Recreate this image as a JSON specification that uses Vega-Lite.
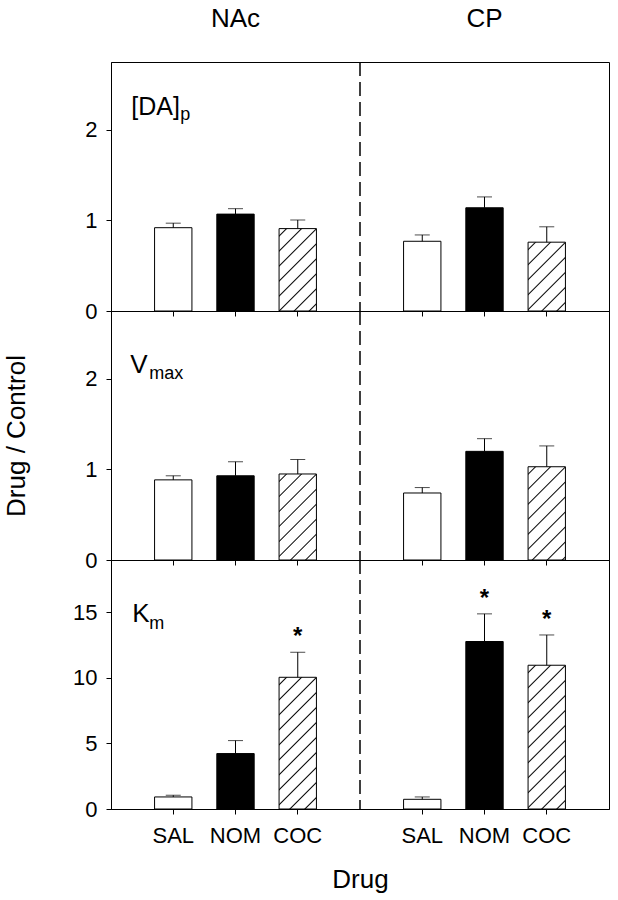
{
"$schema": "https://vega.github.io/schema/vega-lite/v6.json",
"padding": {"top": 5, "left": 3, "right": 5, "bottom": 5},
"background": "white",
"config": {"font": "Liberation Sans", "view": {"stroke": "black", "strokeWidth": 1},
  "axis": {"domainColor": "black", "tickColor": "black", "labelColor": "black", "titleColor": "black", "tickSize": 5, "grid": false, "labelFontSize": 22, "titleFontSize": 26, "titleFontWeight": "normal", "labelFont": "Liberation Sans", "titleFont": "Liberation Sans"}},
"datasets": {"bars": [
 {"param": "DA", "group": "NAc SAL", "value": 0.92, "upper": 0.97, "star": ""},
 {"param": "DA", "group": "NAc NOM", "value": 1.07, "upper": 1.13, "star": ""},
 {"param": "DA", "group": "NAc COC", "value": 0.91, "upper": 1.005, "star": ""},
 {"param": "DA", "group": "CP SAL", "value": 0.77, "upper": 0.84, "star": ""},
 {"param": "DA", "group": "CP NOM", "value": 1.14, "upper": 1.26, "star": ""},
 {"param": "DA", "group": "CP COC", "value": 0.76, "upper": 0.93, "star": ""},
 {"param": "Vmax", "group": "NAc SAL", "value": 0.885, "upper": 0.93, "star": ""},
 {"param": "Vmax", "group": "NAc NOM", "value": 0.93, "upper": 1.085, "star": ""},
 {"param": "Vmax", "group": "NAc COC", "value": 0.95, "upper": 1.11, "star": ""},
 {"param": "Vmax", "group": "CP SAL", "value": 0.74, "upper": 0.80, "star": ""},
 {"param": "Vmax", "group": "CP NOM", "value": 1.20, "upper": 1.34, "star": ""},
 {"param": "Vmax", "group": "CP COC", "value": 1.03, "upper": 1.26, "star": ""},
 {"param": "Km", "group": "NAc SAL", "value": 0.92, "upper": 1.05, "star": ""},
 {"param": "Km", "group": "NAc NOM", "value": 4.23, "upper": 5.22, "star": ""},
 {"param": "Km", "group": "NAc COC", "value": 10.05, "upper": 11.96, "star": "*"},
 {"param": "Km", "group": "CP SAL", "value": 0.74, "upper": 0.92, "star": ""},
 {"param": "Km", "group": "CP NOM", "value": 12.78, "upper": 14.89, "star": "*"},
 {"param": "Km", "group": "CP COC", "value": 10.97, "upper": 13.28, "star": "*"}
]},
"vconcat": [
 {
  "width": 498, "height": 249,
  "layer": [
   {"data": {"name": "bars"}, "transform": [{"filter": "datum.param == 'DA'"}],
    "layer": [
     {"mark": {"type": "bar", "stroke": "black", "strokeWidth": 1},
      "encoding": {
       "x": {"field": "group", "type": "nominal", "scale": {"type": "band", "domain": ["NAc SAL","NAc NOM","NAc COC","mid","CP SAL","CP NOM","CP COC"], "paddingInner": 0.4, "paddingOuter": 0.7}, "axis": {"values": ["NAc SAL","NAc NOM","NAc COC","CP SAL","CP NOM","CP COC"], "labels": false, "title": null}},
       "y": {"field": "value", "type": "quantitative", "scale": {"domain": [0, 2.75], "nice": false}, "axis": {"values": [0,1,2], "title": null, "labelPadding": 9}},
       "fill": {"condition": [
         {"test": "datum.group == 'NAc NOM' || datum.group == 'CP NOM'", "value": "black"},
         {"test": "datum.group == 'NAc COC'", "value": {"gradient": "linear", "x1": 0, "y1": 0, "x2": 0.5465, "y2": 1.2056, "stops": [
           {"offset": 0.0509, "color": "#fff"}, {"offset": 0.0626, "color": "#000"}, {"offset": 0.0743, "color": "#fff"},
           {"offset": 0.1762, "color": "#fff"}, {"offset": 0.1879, "color": "#000"}, {"offset": 0.1996, "color": "#fff"},
           {"offset": 0.3015, "color": "#fff"}, {"offset": 0.3132, "color": "#000"}, {"offset": 0.3248, "color": "#fff"},
           {"offset": 0.4267, "color": "#fff"}, {"offset": 0.4384, "color": "#000"}, {"offset": 0.4501, "color": "#fff"},
           {"offset": 0.5520, "color": "#fff"}, {"offset": 0.5637, "color": "#000"}, {"offset": 0.5754, "color": "#fff"},
           {"offset": 0.6772, "color": "#fff"}, {"offset": 0.6889, "color": "#000"}, {"offset": 0.7006, "color": "#fff"},
           {"offset": 0.8025, "color": "#fff"}, {"offset": 0.8142, "color": "#000"}, {"offset": 0.8259, "color": "#fff"},
           {"offset": 0.9278, "color": "#fff"}, {"offset": 0.9395, "color": "#000"}, {"offset": 0.9512, "color": "#fff"}]}},
         {"test": "datum.group == 'CP COC'", "value": {"gradient": "linear", "x1": 0, "y1": 0, "x2": 0.6469, "y2": 1.1917, "stops": [
           {"offset": 0.0575, "color": "#fff"}, {"offset": 0.0707, "color": "#000"}, {"offset": 0.0838, "color": "#fff"},
           {"offset": 0.1988, "color": "#fff"}, {"offset": 0.2120, "color": "#000"}, {"offset": 0.2252, "color": "#fff"},
           {"offset": 0.3401, "color": "#fff"}, {"offset": 0.3533, "color": "#000"}, {"offset": 0.3665, "color": "#fff"},
           {"offset": 0.4814, "color": "#fff"}, {"offset": 0.4946, "color": "#000"}, {"offset": 0.5078, "color": "#fff"},
           {"offset": 0.6227, "color": "#fff"}, {"offset": 0.6359, "color": "#000"}, {"offset": 0.6491, "color": "#fff"},
           {"offset": 0.7640, "color": "#fff"}, {"offset": 0.7772, "color": "#000"}, {"offset": 0.7904, "color": "#fff"},
           {"offset": 0.9053, "color": "#fff"}, {"offset": 0.9185, "color": "#000"}, {"offset": 0.9317, "color": "#fff"}]}}
        ], "value": "white"}
      }},
     {"mark": {"type": "rule", "color": "black", "strokeWidth": 1},
      "encoding": {
       "x": {"field": "group", "type": "nominal", "scale": {"type": "band", "domain": ["NAc SAL","NAc NOM","NAc COC","mid","CP SAL","CP NOM","CP COC"], "paddingInner": 0.4, "paddingOuter": 0.7}, "axis": {"values": ["NAc SAL","NAc NOM","NAc COC","CP SAL","CP NOM","CP COC"], "labels": false, "title": null}},
       "y": {"field": "value", "type": "quantitative", "scale": {"domain": [0, 2.75], "nice": false}, "axis": {"values": [0,1,2], "title": null, "labelPadding": 9}},
       "y2": {"field": "upper"}}},
     {"mark": {"type": "tick", "color": "black", "size": 15, "thickness": 1},
      "encoding": {
       "x": {"field": "group", "type": "nominal", "scale": {"type": "band", "domain": ["NAc SAL","NAc NOM","NAc COC","mid","CP SAL","CP NOM","CP COC"], "paddingInner": 0.4, "paddingOuter": 0.7}, "axis": {"values": ["NAc SAL","NAc NOM","NAc COC","CP SAL","CP NOM","CP COC"], "labels": false, "title": null}},
       "y": {"field": "upper", "type": "quantitative", "scale": {"domain": [0, 2.75], "nice": false}, "axis": {"values": [0,1,2], "title": null, "labelPadding": 9}}}}
    ]},
   {"data": {"values": [{}]}, "mark": {"type": "text", "text": "[DA]", "align": "left", "baseline": "alphabetic", "dx": -42, "fontSize": 25, "color": "black"},
    "encoding": {
     "x": {"datum": "NAc SAL", "type": "nominal", "scale": {"type": "band", "domain": ["NAc SAL","NAc NOM","NAc COC","mid","CP SAL","CP NOM","CP COC"], "paddingInner": 0.4, "paddingOuter": 0.7}, "axis": {"values": ["NAc SAL","NAc NOM","NAc COC","CP SAL","CP NOM","CP COC"], "labels": false, "title": null}},
     "y": {"datum": 2.165, "type": "quantitative", "scale": {"domain": [0, 2.75], "nice": false}, "axis": {"values": [0,1,2], "title": null, "labelPadding": 9}}}},
   {"data": {"values": [{}]}, "mark": {"type": "text", "text": "p", "align": "left", "baseline": "alphabetic", "dx": 7, "dy": 5, "fontSize": 18, "color": "black"},
    "encoding": {
     "x": {"datum": "NAc SAL", "type": "nominal", "scale": {"type": "band", "domain": ["NAc SAL","NAc NOM","NAc COC","mid","CP SAL","CP NOM","CP COC"], "paddingInner": 0.4, "paddingOuter": 0.7}, "axis": {"values": ["NAc SAL","NAc NOM","NAc COC","CP SAL","CP NOM","CP COC"], "labels": false, "title": null}},
     "y": {"datum": 2.165, "type": "quantitative", "scale": {"domain": [0, 2.75], "nice": false}, "axis": {"values": [0,1,2], "title": null, "labelPadding": 9}}}},
   {"data": {"values": [{"group": "NAc NOM", "label": "NAc"}, {"group": "CP NOM", "label": "CP"}]}, "mark": {"type": "text", "baseline": "alphabetic", "fontSize": 26, "color": "black"},
    "encoding": {
     "x": {"field": "group", "type": "nominal", "scale": {"type": "band", "domain": ["NAc SAL","NAc NOM","NAc COC","mid","CP SAL","CP NOM","CP COC"], "paddingInner": 0.4, "paddingOuter": 0.7}, "axis": {"values": ["NAc SAL","NAc NOM","NAc COC","CP SAL","CP NOM","CP COC"], "labels": false, "title": null}},
     "y": {"datum": 3.137, "type": "quantitative", "scale": {"domain": [0, 2.75], "nice": false}, "axis": {"values": [0,1,2], "title": null, "labelPadding": 9}},
     "text": {"field": "label"}}},
   {"data": {"values": [{}]}, "mark": {"type": "rule", "strokeDash": [14, 6], "strokeWidth": 1.5, "color": "black"},
    "encoding": {
     "x": {"datum": "mid", "type": "nominal", "scale": {"type": "band", "domain": ["NAc SAL","NAc NOM","NAc COC","mid","CP SAL","CP NOM","CP COC"], "paddingInner": 0.4, "paddingOuter": 0.7}, "axis": {"values": ["NAc SAL","NAc NOM","NAc COC","CP SAL","CP NOM","CP COC"], "labels": false, "title": null}}}}
  ]
 },
 {
  "width": 498, "height": 249,
  "layer": [
   {"data": {"name": "bars"}, "transform": [{"filter": "datum.param == 'Vmax'"}],
    "layer": [
     {"mark": {"type": "bar", "stroke": "black", "strokeWidth": 1},
      "encoding": {
       "x": {"field": "group", "type": "nominal", "scale": {"type": "band", "domain": ["NAc SAL","NAc NOM","NAc COC","mid","CP SAL","CP NOM","CP COC"], "paddingInner": 0.4, "paddingOuter": 0.7}, "axis": {"values": ["NAc SAL","NAc NOM","NAc COC","CP SAL","CP NOM","CP COC"], "labels": false, "title": null}},
       "y": {"field": "value", "type": "quantitative", "scale": {"domain": [0, 2.75], "nice": false}, "axis": {"values": [0,1,2], "title": "Drug / Control", "titlePadding": 55, "labelPadding": 9}},
       "fill": {"condition": [
         {"test": "datum.group == 'NAc NOM' || datum.group == 'CP NOM'", "value": "black"},
         {"test": "datum.group == 'NAc COC'", "value": {"gradient": "linear", "x1": 0, "y1": 0, "x2": 0.5241, "y2": 1.2067, "stops": [
           {"offset": 0.0495, "color": "#fff"}, {"offset": 0.0608, "color": "#000"}, {"offset": 0.0722, "color": "#fff"},
           {"offset": 0.1711, "color": "#fff"}, {"offset": 0.1824, "color": "#000"}, {"offset": 0.1938, "color": "#fff"},
           {"offset": 0.2927, "color": "#fff"}, {"offset": 0.3040, "color": "#000"}, {"offset": 0.3154, "color": "#fff"},
           {"offset": 0.4143, "color": "#fff"}, {"offset": 0.4256, "color": "#000"}, {"offset": 0.4370, "color": "#fff"},
           {"offset": 0.5359, "color": "#fff"}, {"offset": 0.5472, "color": "#000"}, {"offset": 0.5586, "color": "#fff"},
           {"offset": 0.6575, "color": "#fff"}, {"offset": 0.6688, "color": "#000"}, {"offset": 0.6802, "color": "#fff"},
           {"offset": 0.7791, "color": "#fff"}, {"offset": 0.7904, "color": "#000"}, {"offset": 0.8018, "color": "#fff"},
           {"offset": 0.9007, "color": "#fff"}, {"offset": 0.9120, "color": "#000"}, {"offset": 0.9234, "color": "#fff"}]}},
         {"test": "datum.group == 'CP COC'", "value": {"gradient": "linear", "x1": 0, "y1": 0, "x2": 0.4832, "y2": 1.2069, "stops": [
           {"offset": 0.0467, "color": "#fff"}, {"offset": 0.0574, "color": "#000"}, {"offset": 0.0681, "color": "#fff"},
           {"offset": 0.1615, "color": "#fff"}, {"offset": 0.1722, "color": "#000"}, {"offset": 0.1829, "color": "#fff"},
           {"offset": 0.2763, "color": "#fff"}, {"offset": 0.2870, "color": "#000"}, {"offset": 0.2977, "color": "#fff"},
           {"offset": 0.3911, "color": "#fff"}, {"offset": 0.4018, "color": "#000"}, {"offset": 0.4126, "color": "#fff"},
           {"offset": 0.5059, "color": "#fff"}, {"offset": 0.5167, "color": "#000"}, {"offset": 0.5274, "color": "#fff"},
           {"offset": 0.6207, "color": "#fff"}, {"offset": 0.6315, "color": "#000"}, {"offset": 0.6422, "color": "#fff"},
           {"offset": 0.7355, "color": "#fff"}, {"offset": 0.7463, "color": "#000"}, {"offset": 0.7570, "color": "#fff"},
           {"offset": 0.8504, "color": "#fff"}, {"offset": 0.8611, "color": "#000"}, {"offset": 0.8718, "color": "#fff"},
           {"offset": 0.9652, "color": "#fff"}, {"offset": 0.9759, "color": "#000"}, {"offset": 0.9866, "color": "#fff"}]}}
        ], "value": "white"}
      }},
     {"mark": {"type": "rule", "color": "black", "strokeWidth": 1},
      "encoding": {
       "x": {"field": "group", "type": "nominal", "scale": {"type": "band", "domain": ["NAc SAL","NAc NOM","NAc COC","mid","CP SAL","CP NOM","CP COC"], "paddingInner": 0.4, "paddingOuter": 0.7}, "axis": {"values": ["NAc SAL","NAc NOM","NAc COC","CP SAL","CP NOM","CP COC"], "labels": false, "title": null}},
       "y": {"field": "value", "type": "quantitative", "scale": {"domain": [0, 2.75], "nice": false}, "axis": {"values": [0,1,2], "title": "Drug / Control", "titlePadding": 55, "labelPadding": 9}},
       "y2": {"field": "upper"}}},
     {"mark": {"type": "tick", "color": "black", "size": 15, "thickness": 1},
      "encoding": {
       "x": {"field": "group", "type": "nominal", "scale": {"type": "band", "domain": ["NAc SAL","NAc NOM","NAc COC","mid","CP SAL","CP NOM","CP COC"], "paddingInner": 0.4, "paddingOuter": 0.7}, "axis": {"values": ["NAc SAL","NAc NOM","NAc COC","CP SAL","CP NOM","CP COC"], "labels": false, "title": null}},
       "y": {"field": "upper", "type": "quantitative", "scale": {"domain": [0, 2.75], "nice": false}, "axis": {"values": [0,1,2], "title": "Drug / Control", "titlePadding": 55, "labelPadding": 9}}}}
    ]},
   {"data": {"values": [{}]}, "mark": {"type": "text", "text": "V", "align": "left", "baseline": "alphabetic", "dx": -43, "fontSize": 26, "color": "black"},
    "encoding": {
     "x": {"datum": "NAc SAL", "type": "nominal", "scale": {"type": "band", "domain": ["NAc SAL","NAc NOM","NAc COC","mid","CP SAL","CP NOM","CP COC"], "paddingInner": 0.4, "paddingOuter": 0.7}, "axis": {"values": ["NAc SAL","NAc NOM","NAc COC","CP SAL","CP NOM","CP COC"], "labels": false, "title": null}},
     "y": {"datum": 2.065, "type": "quantitative", "scale": {"domain": [0, 2.75], "nice": false}, "axis": {"values": [0,1,2], "title": "Drug / Control", "titlePadding": 55, "labelPadding": 9}}}},
   {"data": {"values": [{}]}, "mark": {"type": "text", "text": "max", "align": "left", "baseline": "alphabetic", "dx": -24, "dy": 6, "fontSize": 18, "color": "black"},
    "encoding": {
     "x": {"datum": "NAc SAL", "type": "nominal", "scale": {"type": "band", "domain": ["NAc SAL","NAc NOM","NAc COC","mid","CP SAL","CP NOM","CP COC"], "paddingInner": 0.4, "paddingOuter": 0.7}, "axis": {"values": ["NAc SAL","NAc NOM","NAc COC","CP SAL","CP NOM","CP COC"], "labels": false, "title": null}},
     "y": {"datum": 2.065, "type": "quantitative", "scale": {"domain": [0, 2.75], "nice": false}, "axis": {"values": [0,1,2], "title": "Drug / Control", "titlePadding": 55, "labelPadding": 9}}}},
   {"data": {"values": [{}]}, "mark": {"type": "rule", "strokeDash": [14, 6], "strokeWidth": 1.5, "color": "black"},
    "encoding": {
     "x": {"datum": "mid", "type": "nominal", "scale": {"type": "band", "domain": ["NAc SAL","NAc NOM","NAc COC","mid","CP SAL","CP NOM","CP COC"], "paddingInner": 0.4, "paddingOuter": 0.7}, "axis": {"values": ["NAc SAL","NAc NOM","NAc COC","CP SAL","CP NOM","CP COC"], "labels": false, "title": null}}}}
  ]
 },
 {
  "width": 498, "height": 249,
  "layer": [
   {"data": {"name": "bars"}, "transform": [{"filter": "datum.param == 'Km'"}],
    "layer": [
     {"mark": {"type": "bar", "stroke": "black", "strokeWidth": 1},
      "encoding": {
       "x": {"field": "group", "type": "nominal", "scale": {"type": "band", "domain": ["NAc SAL","NAc NOM","NAc COC","mid","CP SAL","CP NOM","CP COC"], "paddingInner": 0.4, "paddingOuter": 0.7}, "axis": {"values": ["NAc SAL","NAc NOM","NAc COC","CP SAL","CP NOM","CP COC"], "labelExpr": "split(datum.label, ' ')[1]", "labelAngle": 0, "labelPadding": 11, "title": "Drug", "titlePadding": 20}},
       "y": {"field": "value", "type": "quantitative", "scale": {"domain": [0, 19], "nice": false}, "axis": {"values": [0,5,10,15], "title": null, "labelPadding": 9}},
       "fill": {"condition": [
         {"test": "datum.group == 'NAc NOM' || datum.group == 'CP NOM'", "value": "black"},
         {"test": "datum.group == 'NAc COC'", "value": {"gradient": "linear", "x1": 0, "y1": 0, "x2": 0.3369, "y2": 1.1881, "stops": [
           {"offset": 0.0361, "color": "#fff"}, {"offset": 0.0444, "color": "#000"}, {"offset": 0.0527, "color": "#fff"},
           {"offset": 0.1248, "color": "#fff"}, {"offset": 0.1331, "color": "#000"}, {"offset": 0.1414, "color": "#fff"},
           {"offset": 0.2135, "color": "#fff"}, {"offset": 0.2218, "color": "#000"}, {"offset": 0.2301, "color": "#fff"},
           {"offset": 0.3023, "color": "#fff"}, {"offset": 0.3106, "color": "#000"}, {"offset": 0.3188, "color": "#fff"},
           {"offset": 0.3910, "color": "#fff"}, {"offset": 0.3993, "color": "#000"}, {"offset": 0.4076, "color": "#fff"},
           {"offset": 0.4797, "color": "#fff"}, {"offset": 0.4880, "color": "#000"}, {"offset": 0.4963, "color": "#fff"},
           {"offset": 0.5685, "color": "#fff"}, {"offset": 0.5768, "color": "#000"}, {"offset": 0.5850, "color": "#fff"},
           {"offset": 0.6572, "color": "#fff"}, {"offset": 0.6655, "color": "#000"}, {"offset": 0.6738, "color": "#fff"},
           {"offset": 0.7459, "color": "#fff"}, {"offset": 0.7542, "color": "#000"}, {"offset": 0.7625, "color": "#fff"},
           {"offset": 0.8347, "color": "#fff"}, {"offset": 0.8429, "color": "#000"}, {"offset": 0.8512, "color": "#fff"},
           {"offset": 0.9234, "color": "#fff"}, {"offset": 0.9317, "color": "#000"}, {"offset": 0.9400, "color": "#fff"}]}},
         {"test": "datum.group == 'CP COC'", "value": {"gradient": "linear", "x1": 0, "y1": 0, "x2": 0.3065, "y2": 1.1801, "stops": [
           {"offset": 0.0337, "color": "#fff"}, {"offset": 0.0414, "color": "#000"}, {"offset": 0.0491, "color": "#fff"},
           {"offset": 0.1165, "color": "#fff"}, {"offset": 0.1242, "color": "#000"}, {"offset": 0.1320, "color": "#fff"},
           {"offset": 0.1993, "color": "#fff"}, {"offset": 0.2070, "color": "#000"}, {"offset": 0.2147, "color": "#fff"},
           {"offset": 0.2821, "color": "#fff"}, {"offset": 0.2898, "color": "#000"}, {"offset": 0.2975, "color": "#fff"},
           {"offset": 0.3649, "color": "#fff"}, {"offset": 0.3726, "color": "#000"}, {"offset": 0.3804, "color": "#fff"},
           {"offset": 0.4477, "color": "#fff"}, {"offset": 0.4554, "color": "#000"}, {"offset": 0.4632, "color": "#fff"},
           {"offset": 0.5305, "color": "#fff"}, {"offset": 0.5382, "color": "#000"}, {"offset": 0.5460, "color": "#fff"},
           {"offset": 0.6133, "color": "#fff"}, {"offset": 0.6210, "color": "#000"}, {"offset": 0.6288, "color": "#fff"},
           {"offset": 0.6961, "color": "#fff"}, {"offset": 0.7038, "color": "#000"}, {"offset": 0.7116, "color": "#fff"},
           {"offset": 0.7789, "color": "#fff"}, {"offset": 0.7866, "color": "#000"}, {"offset": 0.7944, "color": "#fff"},
           {"offset": 0.8617, "color": "#fff"}, {"offset": 0.8695, "color": "#000"}, {"offset": 0.8772, "color": "#fff"},
           {"offset": 0.9445, "color": "#fff"}, {"offset": 0.9523, "color": "#000"}, {"offset": 0.9600, "color": "#fff"}]}}
        ], "value": "white"}
      }},
     {"mark": {"type": "rule", "color": "black", "strokeWidth": 1},
      "encoding": {
       "x": {"field": "group", "type": "nominal", "scale": {"type": "band", "domain": ["NAc SAL","NAc NOM","NAc COC","mid","CP SAL","CP NOM","CP COC"], "paddingInner": 0.4, "paddingOuter": 0.7}, "axis": {"values": ["NAc SAL","NAc NOM","NAc COC","CP SAL","CP NOM","CP COC"], "labelExpr": "split(datum.label, ' ')[1]", "labelAngle": 0, "labelPadding": 11, "title": "Drug", "titlePadding": 20}},
       "y": {"field": "value", "type": "quantitative", "scale": {"domain": [0, 19], "nice": false}, "axis": {"values": [0,5,10,15], "title": null, "labelPadding": 9}},
       "y2": {"field": "upper"}}},
     {"mark": {"type": "tick", "color": "black", "size": 15, "thickness": 1},
      "encoding": {
       "x": {"field": "group", "type": "nominal", "scale": {"type": "band", "domain": ["NAc SAL","NAc NOM","NAc COC","mid","CP SAL","CP NOM","CP COC"], "paddingInner": 0.4, "paddingOuter": 0.7}, "axis": {"values": ["NAc SAL","NAc NOM","NAc COC","CP SAL","CP NOM","CP COC"], "labelExpr": "split(datum.label, ' ')[1]", "labelAngle": 0, "labelPadding": 11, "title": "Drug", "titlePadding": 20}},
       "y": {"field": "upper", "type": "quantitative", "scale": {"domain": [0, 19], "nice": false}, "axis": {"values": [0,5,10,15], "title": null, "labelPadding": 9}}}},
     {"transform": [{"filter": "datum.star == '*'"}],
      "mark": {"type": "text", "fontSize": 24, "fontWeight": "bold", "baseline": "alphabetic", "dy": -8, "color": "black"},
      "encoding": {
       "x": {"field": "group", "type": "nominal", "scale": {"type": "band", "domain": ["NAc SAL","NAc NOM","NAc COC","mid","CP SAL","CP NOM","CP COC"], "paddingInner": 0.4, "paddingOuter": 0.7}, "axis": {"values": ["NAc SAL","NAc NOM","NAc COC","CP SAL","CP NOM","CP COC"], "labelExpr": "split(datum.label, ' ')[1]", "labelAngle": 0, "labelPadding": 11, "title": "Drug", "titlePadding": 20}},
       "y": {"field": "upper", "type": "quantitative", "scale": {"domain": [0, 19], "nice": false}, "axis": {"values": [0,5,10,15], "title": null, "labelPadding": 9}},
       "text": {"field": "star"}}}
    ]},
   {"data": {"values": [{}]}, "mark": {"type": "text", "text": "K", "align": "left", "baseline": "alphabetic", "dx": -41, "fontSize": 26, "color": "black"},
    "encoding": {
     "x": {"datum": "NAc SAL", "type": "nominal", "scale": {"type": "band", "domain": ["NAc SAL","NAc NOM","NAc COC","mid","CP SAL","CP NOM","CP COC"], "paddingInner": 0.4, "paddingOuter": 0.7}, "axis": {"values": ["NAc SAL","NAc NOM","NAc COC","CP SAL","CP NOM","CP COC"], "labelExpr": "split(datum.label, ' ')[1]", "labelAngle": 0, "labelPadding": 11, "title": "Drug", "titlePadding": 20}},
     "y": {"datum": 14.27, "type": "quantitative", "scale": {"domain": [0, 19], "nice": false}, "axis": {"values": [0,5,10,15], "title": null, "labelPadding": 9}}}},
   {"data": {"values": [{}]}, "mark": {"type": "text", "text": "m", "align": "left", "baseline": "alphabetic", "dx": -24, "dy": 7, "fontSize": 18, "color": "black"},
    "encoding": {
     "x": {"datum": "NAc SAL", "type": "nominal", "scale": {"type": "band", "domain": ["NAc SAL","NAc NOM","NAc COC","mid","CP SAL","CP NOM","CP COC"], "paddingInner": 0.4, "paddingOuter": 0.7}, "axis": {"values": ["NAc SAL","NAc NOM","NAc COC","CP SAL","CP NOM","CP COC"], "labelExpr": "split(datum.label, ' ')[1]", "labelAngle": 0, "labelPadding": 11, "title": "Drug", "titlePadding": 20}},
     "y": {"datum": 14.27, "type": "quantitative", "scale": {"domain": [0, 19], "nice": false}, "axis": {"values": [0,5,10,15], "title": null, "labelPadding": 9}}}},
   {"data": {"values": [{}]}, "mark": {"type": "rule", "strokeDash": [14, 6], "strokeWidth": 1.5, "color": "black"},
    "encoding": {
     "x": {"datum": "mid", "type": "nominal", "scale": {"type": "band", "domain": ["NAc SAL","NAc NOM","NAc COC","mid","CP SAL","CP NOM","CP COC"], "paddingInner": 0.4, "paddingOuter": 0.7}, "axis": {"values": ["NAc SAL","NAc NOM","NAc COC","CP SAL","CP NOM","CP COC"], "labelExpr": "split(datum.label, ' ')[1]", "labelAngle": 0, "labelPadding": 11, "title": "Drug", "titlePadding": 20}}}}
  ]
 }
],
"spacing": 0,
"bounds": "flush"
}
